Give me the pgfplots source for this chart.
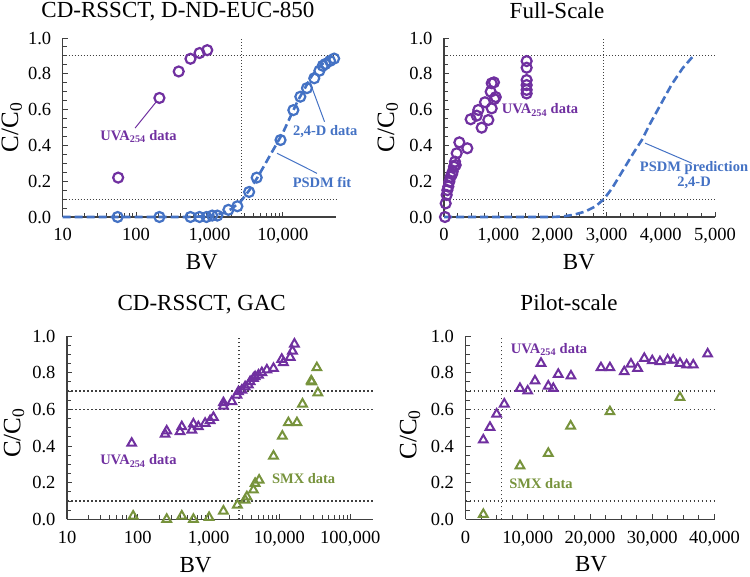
\documentclass[border=0pt]{standalone}
\usepackage{fontspec}
\setmainfont{Liberation Serif}
\usepackage{pgfplots}
\pgfplotsset{compat=1.18}
\definecolor{uvapurple}{RGB}{112,48,160}
\definecolor{dblue}{RGB}{68,114,196}
\definecolor{smxgreen}{RGB}{119,147,60}
\definecolor{refgray}{RGB}{64,64,64}

\pgfplotsset{
  panel/.style={
    scale only axis, anchor=south west,
    axis lines=left,
    axis line style={black!75,line width=1.1pt,-},
    ymin=0, ymax=1,
    ytick={0,0.2,0.4,0.6,0.8,1.0},
    minor y tick num=3,
    tick align=inside,
    major tick length=5pt, minor tick length=4pt,
    every tick/.style={black!75,line width=0.9pt},
    yticklabel style={/pgf/number format/.cd,fixed,fixed zerofill,precision=1,
      /tikz/.cd, xshift=-8pt},
    xticklabel style={yshift=-8pt},
    tick label style={font=\fontsize{18.5}{20}\selectfont},
    /pgf/number format/assume math mode=true,
    label style={font=\fontsize{23}{25}\selectfont, inner sep=0pt},
    ylabel={C/C\textsubscript{0}},
    ylabel style={font=\fontsize{25}{27}\selectfont},
    xlabel={BV},
    clip=false,
  },
  linx/.style={scaled x ticks=false,
    xticklabel style={/pgf/number format/.cd,1000 sep={,}}, minor x tick num=3},
  ref/.style={refgray, line width=1pt, dash pattern=on 1.2pt off 1.8pt, forget plot},
  refb/.style={refgray, line width=1.5pt, dash pattern=on 1.5pt off 2.5pt, forget plot},
  circ/.style={only marks, mark=o, mark size=5pt, mark options={line width=2.2pt}},
  tri/.style={only marks, mark=triangle, mark size=5pt, mark options={line width=2pt}},
}
\tikzset{note/.style={font=\fontsize{14.5}{15}\selectfont\bfseries}}

\begin{document}
\begin{tikzpicture}
\path[use as bounding box] (0,0) rectangle (750pt,576pt);

% ---------- top left: CD-RSSCT, D-ND-EUC-850 ----------
\begin{axis}[panel, at={(62.7pt,359pt)}, width=273.3pt, height=179pt,
  xmode=log, xmin=10, xmax=53000,
  xtick={10,100,1000,10000}, xticklabels={10,100,{1,000},{10,000}},
  xlabel style={at={(axis description cs:0.509,-0.25)},anchor=center},
  ylabel style={at={(axis description cs:-0.186,0.5)},anchor=center}]
\addplot[ref] coordinates {(10,0.9)(53000,0.9)};
\addplot[ref] coordinates {(10,0.1)(53000,0.1)};
\addplot[ref] coordinates {(2700,0)(2700,1)};
\addplot[dblue, line width=2.6pt, dash pattern=on 8pt off 4pt] coordinates {
  (10,0)(100,0)(500,0)(1000,0.005)(1500,0.02)(2000,0.045)(2700,0.09)(3500,0.15)
  (4500,0.22)(6000,0.31)(8000,0.40)(10000,0.47)(13000,0.57)(16000,0.65)
  (20000,0.72)(25000,0.79)(30000,0.83)(38000,0.87)(47000,0.90)};
\addplot[circ, dblue] coordinates {
  (56,0)(208,0)(551,0)(732,0)(910,0)(1090,0.008)(1280,0.008)(1810,0.04)
  (2400,0.06)(3470,0.14)(4400,0.22)(9300,0.43)(13900,0.597)(17300,0.672)
  (21300,0.72)(26800,0.775)(31500,0.817)(35000,0.845)(38000,0.855)
  (44000,0.872)(50000,0.885)};
\addplot[circ, uvapurple] coordinates {
  (57,0.22)(208,0.665)(381,0.813)(551,0.884)(732,0.916)(933,0.932)};
\draw[uvapurple, line width=1pt] (axis cs:97,0.497) -- (axis cs:187,0.642);
\node[note, uvapurple] at (axis cs:108,0.45) {UVA\textsubscript{254} data};
\draw[dblue, line width=1pt] (axis cs:37000,0.532) -- (axis cs:23700,0.747);
\node[note, dblue] at (axis cs:37800,0.477) {2,4-D data};
\draw[dblue, line width=1pt] (axis cs:29200,0.244) -- (axis cs:8320,0.356);
\node[note, dblue] at (axis cs:34100,0.192) {PSDM fit};
\end{axis}
\node[font=\fontsize{23}{25}\selectfont] at (178pt,564pt) {CD-RSSCT, D-ND-EUC-850};

% ---------- top right: Full-Scale ----------
\begin{axis}[panel, linx, at={(444pt,359pt)}, width=271pt, height=179pt,
  xmin=0, xmax=5000, xtick={0,1000,...,5000},
  xlabel style={at={(axis description cs:0.498,-0.25)},anchor=center},
  ylabel style={at={(axis description cs:-0.207,0.5)},anchor=center}]
\addplot[ref] coordinates {(0,0.9)(5000,0.9)};
\addplot[ref] coordinates {(0,0.1)(5000,0.1)};
\addplot[ref] coordinates {(2950,0)(2950,1)};
\addplot[dblue, line width=2.6pt, dash pattern=on 8pt off 4pt] coordinates {
  (0,0)(500,0)(1000,0)(1500,0)(2000,0)(2200,0.003)(2400,0.013)(2600,0.03)
  (2800,0.06)(2950,0.10)(3100,0.16)(3300,0.26)(3500,0.36)(3650,0.43)
  (3800,0.52)(4000,0.63)(4200,0.74)(4400,0.83)(4600,0.90)};
\addplot[circ, uvapurple] coordinates {
  (18,0)(31,0.076)(49,0.123)(62,0.15)(80,0.17)(98,0.197)(123,0.225)(150,0.24)
  (160,0.253)(184,0.281)(203,0.309)(215,0.29)(234,0.356)(283,0.417)(430,0.384)
  (492,0.546)(603,0.566)(633,0.598)(695,0.499)(756,0.641)(818,0.542)(861,0.70)
  (880,0.747)(922,0.752)(928,0.659)(880,0.607)(955,0.67)
  (1525,0.871)(1525,0.834)(1525,0.765)(1525,0.737)(1525,0.71)(1525,0.69)};
\node[note, uvapurple] at (axis cs:1771,0.598) {UVA\textsubscript{254} data};
\draw[dblue, line width=1pt] (axis cs:3708,0.413) -- (axis cs:4576,0.30);
\node[note, dblue, align=center] at (axis cs:4613,0.235) {PSDM prediction\\2,4-D};
\end{axis}
\node[font=\fontsize{23}{25}\selectfont] at (557pt,565pt) {Full-Scale};

% ---------- bottom left: CD-RSSCT, GAC ----------
\begin{axis}[panel, at={(67pt,56.7pt)}, width=306pt, height=183.3pt,
  xmode=log, xmin=10, xmax=210000,
  xtick={10,100,1000,10000,100000}, xticklabels={10,100,{1,000},{10,000},{100,000}},
  xlabel style={at={(axis description cs:0.42,-0.25)},anchor=center},
  ylabel style={at={(axis description cs:-0.173,0.47)},anchor=center}]
\addplot[refb] coordinates {(10,0.7)(210000,0.7)};
\addplot[refb] coordinates {(10,0.6)(210000,0.6)};
\addplot[refb] coordinates {(10,0.1)(210000,0.1)};
\addplot[refb] coordinates {(2700,0)(2700,1)};
\addplot[tri, uvapurple] coordinates {
  (82,0.415)(243,0.464)(256,0.482)(395,0.478)(418,0.505)(579,0.487)(610,0.52)
  (717,0.505)(893,0.524)(1050,0.538)(1170,0.556)(1620,0.618)(1620,0.636)
  (2130,0.642)(2510,0.678)(2640,0.696)(2950,0.705)(3280,0.723)(3650,0.733)
  (3860,0.751)(4300,0.769)(4540,0.778)(5060,0.787)(5650,0.80)(6650,0.815)
  (8250,0.823)(10800,0.873)(11400,0.855)(14200,0.884)(15300,0.918)(16300,0.956)};
\addplot[tri, smxgreen] coordinates {
  (86,0.018)(256,0)(418,0.018)(610,0)(1016,0.01)(1620,0.045)(2550,0.078)
  (3280,0.105)(3470,0.123)(4300,0.16)(4540,0.196)(5170,0.214)(8250,0.345)
  (11000,0.454)(13400,0.527)(17700,0.527)(21200,0.629)(28100,0.755)
  (28700,0.75)(33800,0.827)(34900,0.69)};
\node[note, uvapurple] at (axis cs:102,0.318) {UVA\textsubscript{254} data};
\node[note, smxgreen] at (axis cs:22000,0.225) {SMX data};
\end{axis}
\node[font=\fontsize{23}{25}\selectfont] at (201.7pt,271.3pt) {CD-RSSCT, GAC};

% ---------- bottom right: Pilot-scale ----------
\begin{axis}[panel, linx, at={(465.5pt,56.7pt)}, width=249pt, height=183.3pt,
  xmin=0, xmax=40000, xtick={0,10000,...,40000},
  xlabel style={at={(axis description cs:0.504,-0.245)},anchor=center},
  ylabel style={at={(axis description cs:-0.223,0.462)},anchor=center}]
\addplot[refb] coordinates {(0,0.7)(40000,0.7)};
\addplot[refb] coordinates {(0,0.6)(40000,0.6)};
\addplot[refb] coordinates {(0,0.1)(40000,0.1)};
\addplot[refb] coordinates {(5750,0)(5750,1)};
\addplot[tri, uvapurple] coordinates {
  (2860,0.433)(3930,0.502)(5000,0.574)(6230,0.629)(8750,0.714)(9990,0.70)
  (11160,0.755)(12130,0.851)(13300,0.727)(14100,0.714)(14900,0.791)
  (16940,0.782)(21760,0.827)(23200,0.827)(25500,0.805)(26580,0.847)
  (27650,0.824)(28720,0.878)(30000,0.865)(31240,0.86)(32470,0.869)
  (33370,0.869)(34450,0.851)(35520,0.842)(36590,0.842)(38900,0.902)};
\addplot[tri, smxgreen] coordinates {
  (2860,0.027)(8750,0.292)(13300,0.36)(16890,0.509)(23200,0.587)(34450,0.665)};
\node[note, uvapurple] at (axis cs:13410,0.927) {UVA\textsubscript{254} data};
\node[note, smxgreen] at (axis cs:12130,0.196) {SMX data};
\end{axis}
\node[font=\fontsize{23}{25}\selectfont] at (569pt,273pt) {Pilot-scale};
\end{tikzpicture}
\end{document}
